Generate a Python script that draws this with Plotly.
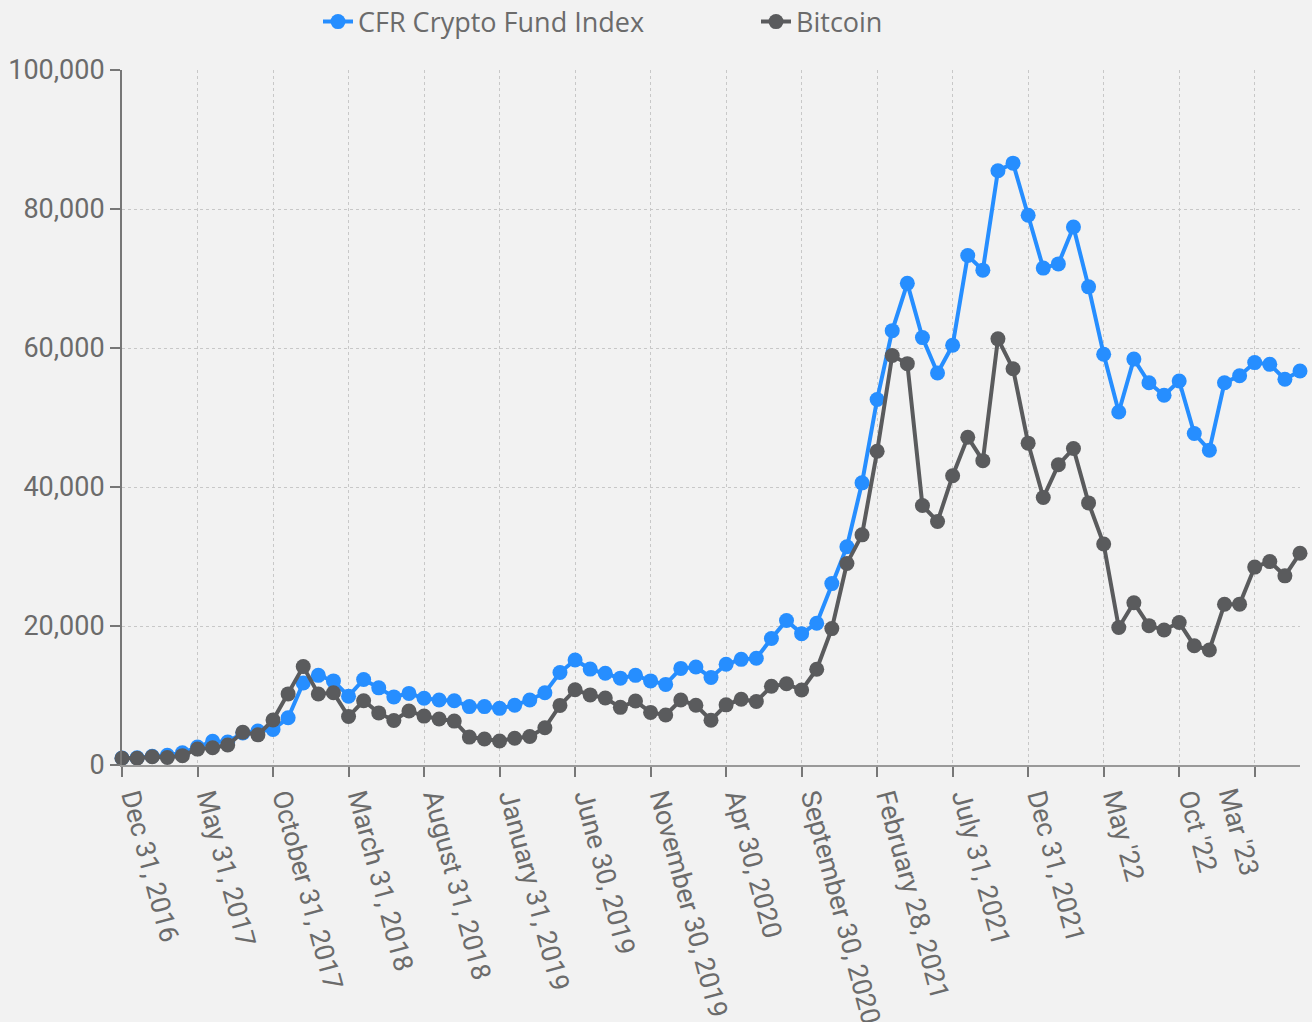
import plotly.graph_objects as go

months = [
    "2016-12", "2017-01", "2017-02", "2017-03", "2017-04", "2017-05", "2017-06", "2017-07", "2017-08", "2017-09",
    "2017-10", "2017-11", "2017-12", "2018-01", "2018-02", "2018-03", "2018-04", "2018-05", "2018-06", "2018-07",
    "2018-08", "2018-09", "2018-10", "2018-11", "2018-12", "2019-01", "2019-02", "2019-03", "2019-04", "2019-05",
    "2019-06", "2019-07", "2019-08", "2019-09", "2019-10", "2019-11", "2019-12", "2020-01", "2020-02", "2020-03",
    "2020-04", "2020-05", "2020-06", "2020-07", "2020-08", "2020-09", "2020-10", "2020-11", "2020-12", "2021-01",
    "2021-02", "2021-03", "2021-04", "2021-05", "2021-06", "2021-07", "2021-08", "2021-09", "2021-10", "2021-11",
    "2021-12", "2022-01", "2022-02", "2022-03", "2022-04", "2022-05", "2022-06", "2022-07", "2022-08", "2022-09",
    "2022-10", "2022-11", "2022-12", "2023-01", "2023-02", "2023-03", "2023-04", "2023-05", "2023-06",
]

cfr_index = [
    1000, 1050, 1250, 1400, 1750, 2600, 3400, 3300, 4600, 4900,
    5100, 6800, 11800, 12900, 12100, 9900, 12300, 11100, 9800, 10300,
    9600, 9350, 9250, 8400, 8400, 8150, 8600, 9350, 10400, 13300,
    15100, 13800, 13200, 12500, 12900, 12100, 11600, 13900, 14100, 12600,
    14500, 15200, 15350, 18200, 20800, 18900, 20400, 26100, 31400, 40600,
    52600, 62500, 69300, 61500, 56400, 60400, 73300, 71200, 85500, 86600,
    79100, 71500, 72100, 77400, 68800, 59100, 50800, 58400, 55000, 53200,
    55250, 47700, 45300, 55000, 56000, 57900, 57650, 55500, 56700,
]

bitcoin = [
    963, 970, 1190, 1071, 1348, 2286, 2480, 2875, 4703, 4338,
    6468, 10233, 14156, 10221, 10397, 6973, 9240, 7494, 6404, 7780,
    7037, 6625, 6318, 4017, 3742, 3457, 3854, 4105, 5350, 8574,
    10817, 10085, 9631, 8294, 9199, 7569, 7194, 9350, 8599, 6438,
    8658, 9461, 9137, 11323, 11681, 10784, 13781, 19625, 29001, 33114,
    45137, 58918, 57750, 37332, 35040, 41626, 47166, 43790, 61318, 57005,
    46306, 38483, 43193, 45538, 37714, 31792, 19785, 23336, 20050, 19431,
    20495, 17168, 16547, 23139, 23147, 28478, 29268, 27219, 30477,
]

tick_months = months[::5]
tick_labels = [
    "Dec 31, 2016", "May 31, 2017", "October 31, 2017", "March 31, 2018",
    "August 31, 2018", "January 31, 2019", "June 30, 2019", "November 30, 2019",
    "Apr 30, 2020", "September 30, 2020", "February 28, 2021", "July 31, 2021",
    "Dec 31, 2021", "May '22", "Oct '22", "Mar '23",
]

BLUE = "#268eff"
DARK = "#5a5b5d"
TEXT = "#6b6b6b"
TICKFONT = dict(family="Roboto", size=27, color=TEXT)

fig = go.Figure()
fig.add_trace(go.Scatter(
    x=months, y=cfr_index, name="CFR Crypto Fund Index", mode="lines+markers",
    line=dict(color=BLUE, width=4), marker=dict(color=BLUE, size=15),
    cliponaxis=False,
))
fig.add_trace(go.Scatter(
    x=months, y=bitcoin, name="Bitcoin", mode="lines+markers",
    line=dict(color=DARK, width=4), marker=dict(color=DARK, size=15),
    cliponaxis=False,
))

# The last label sits to the left of its tick in the reference; draw it as an annotation
shown_ticktext = tick_labels[:-1] + [""]
fig.add_annotation(
    x=tick_months[-1], xref="x", y=0, yref="paper",
    text=tick_labels[-1], showarrow=False, textangle=75,
    font=TICKFONT, xanchor="center", yanchor="middle",
    xshift=-16, yshift=-67,
)

grid = dict(showgrid=True, gridcolor="#c8c8c8", gridwidth=1, griddash="dot")

fig.update_layout(
    width=1312, height=1022,
    paper_bgcolor="#f2f2f2", plot_bgcolor="#f2f2f2",
    margin=dict(l=122, r=12, t=70, b=257, autoexpand=False),
    showlegend=True,
    legend=dict(
        orientation="h", x=(318 - 122) / 1178, xanchor="left", y=1.069, yanchor="middle",
        font=dict(family="Open Sans", size=27, color=TEXT),
        itemwidth=30, entrywidth=393, bgcolor="rgba(0,0,0,0)",
    ),
    xaxis=dict(
        type="category", range=[0, len(months) - 1],
        tickmode="array", tickvals=tick_months, ticktext=shown_ticktext,
        tickangle=75, tickfont=TICKFONT,
        ticklabelshift=12, ticklabelstandoff=-6,
        ticks="outside", ticklen=10, tickcolor="#777777", tickwidth=2,
        showline=True, linecolor="#999999", linewidth=2,
        zeroline=False, **grid,
    ),
    yaxis=dict(
        range=[0, 100000], tickvals=[0, 20000, 40000, 60000, 80000, 100000],
        tickformat=",d", tickfont=TICKFONT,
        ticks="outside", ticklen=10, tickcolor="#777777", tickwidth=2,
        showline=True, linecolor="#777777", linewidth=2,
        zeroline=False, **grid,
    ),
)

fig.write_html(
    "out.html",
    config={"displayModeBar": False},
    post_script="document.body.style.margin='0';document.body.style.padding='0';",
)
